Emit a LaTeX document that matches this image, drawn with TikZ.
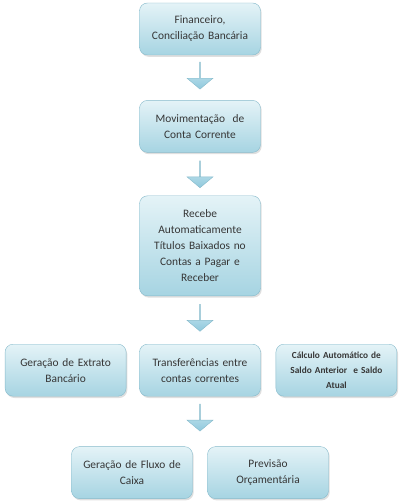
\documentclass[tikz,border=0pt]{standalone}
\usepackage{fontspec}
\setmainfont{Carlito}
\usetikzlibrary{positioning,calc,shapes.arrows,shadows}
\definecolor{boxtop}{HTML}{E4F3F7}
\definecolor{boxbot}{HTML}{A6D4E2}
\definecolor{boxline}{HTML}{86BACB}
\definecolor{arrtop}{HTML}{D6EEF5}
\definecolor{arrbot}{HTML}{8FC8DC}
\definecolor{txt}{HTML}{363636}
\begin{document}
\begin{tikzpicture}[x=1pt,y=1pt]
    \tikzstyle{box} = [rectangle, rounded corners=8pt, draw=boxline, line width=0.4pt,
        top color=boxtop, bottom color=boxbot, text=txt, align=center,
        minimum width=121pt, minimum height=52pt, text width=114pt,
        font=\fontsize{11.4}{16}\selectfont,
        drop shadow={opacity=0.25, shadow xshift=1.2pt, shadow yshift=-1.8pt}]
    \tikzstyle{down} = [single arrow, shape border rotate=270, draw=boxline, line width=0.4pt,
        top color=arrtop, bottom color=arrbot, minimum height=27pt, minimum width=26pt,
        single arrow head extend=6.5pt, single arrow tip angle=100, inner sep=0pt]
    \useasboundingbox (0,0) rectangle (400,-502);
        \node[box] (fin) at (200,-29) {Financeiro,\\Conciliação Bancária};
        % level 1
        \node[box,below=45pt of fin] (mov) {Movimentação~ de\\Conta Corrente};
        % level 2
        \node[box,below=43pt of mov,minimum height=100pt] (rec) {Recebe\\Automaticamente\\Títulos Baixados no\\Contas a Pagar e\\Receber};
        % level 3
        \node[box,below=48pt of rec] (trf) {Transferências entre\\contas correntes};
        \node[box,left=13pt of trf] (ext) {Geração de Extrato\\Bancário};
        \node[box,right=15pt of trf,font=\bfseries\fontsize{9.3}{15}\selectfont] (sld) {Cálculo Automático de\\Saldo Anterior~ e Saldo\\Atual};
        % leaves
        \node[box,below=50pt of trf,xshift=-68pt] (flx) {Geração de Fluxo de\\Caixa};
        \node[box,below=50pt of trf,xshift=68pt] (orc) {Previsão\\Orçamentária};
        \coordinate (bot) at ($(flx.north)!0.5!(orc.north)$);
        %%% arrows
        \node[down] (a1) at ($(fin.south)!0.45!(mov.north)$) {};
        \node[down] (a2) at ($(mov.south)!0.5!(rec.north)$) {};
        \node[down] (a3) at ($(rec.south)!0.45!(trf.north)$) {};
        \node[down] (a4) at ($(trf.south)!0.42!(bot)$) {};
    \end{tikzpicture}
\end{document}
